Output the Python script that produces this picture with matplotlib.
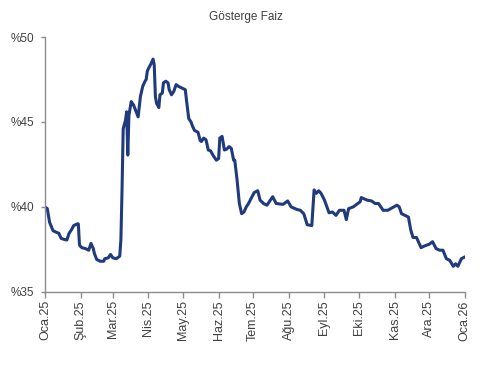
import numpy as np
import pandas as pd
import matplotlib
matplotlib.use("Agg")
import matplotlib.pyplot as plt

plt.rcParams['font.family'] = ['Liberation Sans', 'DejaVu Sans']

# days since 2025-01-01 and yield (%)
day = [0, 2, 4, 7, 10, 12, 14, 16, 19, 21, 23, 25, 28, 29, 30, 32, 35, 38, 40, 42,
       43, 45, 48, 51, 52, 55, 57, 59, 62, 65, 66, 67, 68, 70, 71, 72, 73, 75, 77, 79,
       81, 82, 83, 85, 87, 88, 89, 90, 92, 94, 95, 96, 97, 99, 100, 102, 103, 105, 107, 108,
       110, 112, 114, 116, 119, 122, 123, 125, 127, 128, 130, 133, 135, 136, 138, 140, 142, 144, 146, 149,
       151, 152, 154, 156, 158, 160, 162, 164, 165, 167, 169, 171, 173, 175, 177, 180, 182, 185, 187, 190,
       193, 195, 198, 201, 207, 211, 214, 219, 222, 225, 228, 232, 234, 236, 238, 240, 243, 247, 250, 253,
       256, 260, 262, 264, 268, 271, 274, 275, 280, 284, 287, 290, 294, 298, 302, 306, 308, 310, 313, 316,
       318, 320, 323, 327, 330, 334, 337, 340, 343, 346, 349, 352, 355, 357, 359, 362, 365]
yield_pct = [40.0, 39.9, 39.1, 38.6, 38.5, 38.45, 38.15, 38.1, 38.05, 38.45, 38.65, 38.9, 39.0, 39.0, 37.75, 37.6, 37.55, 37.45, 37.85, 37.55,
             37.25, 36.9, 36.8, 36.8, 36.95, 37.0, 37.2, 37.0, 36.95, 37.1, 38.05, 41.0, 44.6, 45.1, 45.6, 43.05, 45.4, 46.2, 46.0, 45.65,
             45.3, 45.9, 46.5, 47.1, 47.4, 47.5, 48.0, 48.15, 48.4, 48.7, 48.35, 46.5, 46.1, 45.85, 46.6, 46.7, 47.3, 47.4, 47.3, 46.9,
             46.6, 46.8, 47.2, 47.1, 47.0, 46.9, 46.3, 45.2, 45.0, 44.8, 44.5, 44.4, 43.9, 43.85, 44.05, 43.95, 43.35, 43.3, 43.05, 42.75,
             42.85, 44.05, 44.15, 43.35, 43.4, 43.55, 43.45, 42.75, 42.75, 41.6, 40.2, 39.6, 39.7, 40.0, 40.2, 40.6, 40.85, 40.95, 40.4, 40.2,
             40.1, 40.3, 40.6, 40.2, 40.15, 40.35, 40.0, 39.85, 39.8, 39.6, 38.95, 38.9, 41.0, 40.8, 40.95, 40.8, 40.4, 39.65, 39.7, 39.5,
             39.8, 39.8, 39.25, 39.9, 40.0, 40.15, 40.3, 40.55, 40.4, 40.35, 40.2, 40.2, 39.8, 39.8, 39.95, 40.1, 40.0, 39.6, 39.5, 39.4,
             38.65, 38.2, 38.2, 37.6, 37.7, 37.8, 37.95, 37.55, 37.45, 37.45, 36.95, 36.85, 36.5, 36.65, 36.5, 36.95, 37.05]

month_labels = ['Oca.25', 'Şub.25', 'Mar.25', 'Nis.25', 'May.25', 'Haz.25', 'Tem.25',
                'Ağu.25', 'Eyl.25', 'Eki.25', 'Kas.25', 'Ara.25', 'Oca.26']
y_ticks = [35, 40, 45, 50]

dates = pd.Timestamp('2025-01-01') + pd.to_timedelta(day, unit='D')
month_starts = pd.date_range('2025-01-01', '2026-01-01', freq='MS')

fig = plt.figure(figsize=(4.91, 3.78), dpi=100)
ax = fig.add_axes([0.0916, 0.228, 0.855, 0.674])
ax.plot(dates, yield_pct, color='#1F3A7D', linewidth=2.2, solid_joinstyle='round')

ax.set_xlim(month_starts[0], month_starts[-1])
ax.set_ylim(35, 50)
ax.set_xticks(month_starts)
ax.set_xticklabels(month_labels, rotation=90, fontsize=9, color='#404040')
ax.set_yticks(y_ticks)
ax.set_yticklabels([f'%{v}' for v in y_ticks], fontsize=8.5, color='#404040')

for s in ['top', 'right']:
    ax.spines[s].set_visible(False)
for s in ['left', 'bottom']:
    ax.spines[s].set_color('#8C8C8C')
    ax.spines[s].set_linewidth(1.0)
ax.tick_params(axis='x', colors='#8C8C8C', length=4, width=1.0, labelcolor='#404040', pad=2)
ax.tick_params(axis='y', colors='#8C8C8C', length=3, width=1.0, labelcolor='#404040', pad=5)

fig.text(0.5, 0.955, 'Gösterge Faiz', ha='center', va='center', fontsize=8.5, color='#404040')

fig.savefig('out.png', dpi=100)
